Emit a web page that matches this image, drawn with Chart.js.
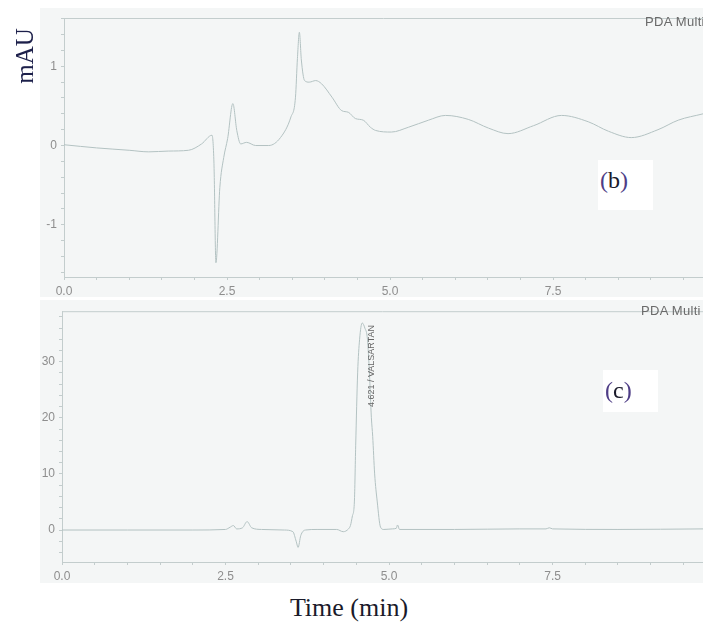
<!DOCTYPE html>
<html>
<head>
<meta charset="utf-8">
<script src="https://cdn.jsdelivr.net/npm/chart.js@4"></script>
<style>
  body { margin: 0; width: 703px; height: 622px; background: #fff; position: relative; overflow: hidden; }
  .panel { position: absolute; background: #f4f6f6; }
  .wrap { position: absolute; left: 0; }
  .tag { position: absolute; font-family: "Liberation Serif", "DejaVu Serif", serif; color: #1a1a2a; }
  .box { position: absolute; background: #fff; }
  .pda { position: absolute; font-family: "Liberation Sans", Arial, sans-serif; font-size: 13px; letter-spacing: 0.3px; color: #6a6a6a; white-space: nowrap; }
  .par { color: #4e3d86; }
</style>
</head>
<body>
<div class="panel" style="left:40px;top:8px;width:663px;height:289px"></div>
<div class="panel" style="left:40px;top:300px;width:663px;height:283px"></div>

<div class="wrap" style="top:0"><canvas id="chart-b" width="703" height="300"></canvas></div>
<div class="wrap" style="top:300px"><canvas id="chart-c" width="703" height="290"></canvas></div>

<div class="pda" style="left:645px;top:14px">PDA Multi Chromatogram</div>
<div class="pda" style="left:641px;top:303px">PDA Multi Chromatogram</div>

<div class="box" style="left:598px;top:160px;width:55px;height:50px"></div>
<div class="tag" style="left:600px;top:166px;font-size:24px;line-height:28px"><span class="par">(</span>b<span class="par">)</span></div>
<div class="box" style="left:603px;top:370px;width:55px;height:42px"></div>
<div class="tag" style="left:605px;top:376px;font-size:24px;line-height:28px"><span class="par">(</span>c<span class="par">)</span></div>

<div class="tag" style="left:-15px;top:41px;width:80px;height:30px;line-height:30px;text-align:center;font-size:25px;color:#1c1f4a;transform:rotate(-90deg)">mAU</div>
<div class="tag" style="left:249px;top:593px;width:200px;line-height:30px;text-align:center;font-size:26px">Time (min)</div>

<script>
// chromatogram (b) - blank
const timeB = [0, 0.5, 1.0, 1.3, 1.6, 1.91, 2.11, 2.27, 2.30, 2.33, 2.39, 2.45, 2.51, 2.59, 2.65,
  2.71, 2.80, 2.94, 3.14, 3.32, 3.48, 3.55, 3.58, 3.61, 3.64, 3.69, 3.76, 3.86, 3.95, 4.11,
  4.26, 4.36, 4.47, 4.59, 4.70, 4.78, 5.02, 5.28, 5.59, 5.85, 6.2, 6.51, 6.81, 7.2, 7.63,
  8.04, 8.35, 8.70, 9.11, 9.42, 9.8];
const mauB = [0.01, -0.03, -0.06, -0.08, -0.07, -0.06, 0.02, 0.13, -0.23, -1.48, -0.53, -0.15, 0.09, 0.53, 0.19,
  0.02, 0.04, 0.0, 0.0, 0.1, 0.36, 0.61, 1.1, 1.43, 1.08, 0.82, 0.8, 0.82, 0.78, 0.61,
  0.44, 0.42, 0.34, 0.32, 0.23, 0.19, 0.17, 0.23, 0.32, 0.38, 0.33, 0.22, 0.15, 0.25, 0.38,
  0.3, 0.18, 0.10, 0.2, 0.32, 0.40];

// chromatogram (c) - valsartan
const timeC = [0, 1.0, 2.0, 2.5, 2.57, 2.62, 2.67, 2.76, 2.83, 2.9, 3.05, 3.4, 3.53, 3.58, 3.61,
  3.65, 3.72, 3.9, 4.2, 4.3, 4.38, 4.41, 4.44, 4.47, 4.49, 4.52, 4.55, 4.59, 4.63, 4.67,
  4.70, 4.73, 4.75, 4.78, 4.82, 4.87, 4.92, 5.05, 5.11, 5.13, 5.16, 6.0, 7.0, 7.4, 7.45,
  7.5, 8.5, 9.8];
const mauC = [0, 0, 0, 0.1, 0.5, 0.8, 0.2, 0.4, 1.5, 0.4, 0.1, 0, -0.3, -2.0, -3.1,
  -1.0, 0, 0.1, 0.1, -0.3, 0.2, 0.8, 2.5, 5, 15, 28, 34, 36.9, 36, 34,
  28, 20, 16.7, 10, 5, 0.5, 0.1, 0.2, 0.3, 0.9, 0.1, 0.1, 0.2, 0.2, 0.4,
  0.2, 0.1, 0.2];

const peakTime = 4.59;
const peakHeight = 36.9;
const peakLabel = "4.621 / VALSARTAN";

const axisColor = "#c3cdcd";
const traceColor = "#b3c2c2";
const tickFont = { family: "'Liberation Sans', Arial, sans-serif", size: 12 };

// top line of the plot frame
const framePlugin = {
  id: "frame",
  afterDraw(chart) {
    const { ctx, chartArea: a } = chart;
    ctx.save();
    ctx.strokeStyle = axisColor;
    ctx.lineWidth = 1;
    ctx.beginPath();
    ctx.moveTo(a.left, a.top + 0.5);
    ctx.lineTo(a.right, a.top + 0.5);
    ctx.stroke();
    ctx.restore();
  },
};

const peakLabelPlugin = {
  id: "peakLabel",
  afterDatasetsDraw(chart) {
    const { ctx, scales } = chart;
    const x = scales.x.getPixelForValue(peakTime) + 9;
    const y = scales.y.getPixelForValue(peakHeight) + 2;
    ctx.save();
    ctx.translate(x, y);
    ctx.rotate(-Math.PI / 2);
    ctx.font = "9px 'Liberation Sans', Arial, sans-serif";
    ctx.fillStyle = "#666";
    ctx.textAlign = "right";
    ctx.textBaseline = "middle";
    ctx.fillText(peakLabel, 0, 0);
    ctx.restore();
  },
};

function makeChart(id, times, values, cfg) {
  const ctx = document.getElementById(id).getContext("2d");
  return new Chart(ctx, {
    type: "line",
    data: {
      datasets: [
        {
          data: times.map((t, i) => ({ x: t, y: values[i] })),
          borderColor: traceColor,
          borderWidth: 1,
          pointRadius: 0,
          cubicInterpolationMode: "monotone",
          fill: false,
        },
      ],
    },
    options: {
      responsive: false,
      animation: false,
      layout: { padding: { top: cfg.padTop, left: 0, right: 0, bottom: 0 } },
      plugins: { legend: { display: false }, tooltip: { enabled: false } },
      scales: {
        x: {
          type: "linear",
          min: 0,
          max: 9.8,
          afterFit: (s) => { s.height = cfg.xHeight; },
          border: { color: axisColor, width: 1 },
          grid: { drawOnChartArea: false, color: axisColor, tickLength: 3 },
          ticks: {
            stepSize: 0.5,
            autoSkip: false,
            includeBounds: false,
            maxRotation: 0,
            padding: 4,
            color: "#8e8e8e",
            font: tickFont,
            callback: (v) => (Math.abs(v / 2.5 - Math.round(v / 2.5)) < 1e-6 ? v.toFixed(1) : ""),
          },
        },
        y: {
          min: cfg.yMin,
          max: cfg.yMax,
          afterFit: (s) => { s.width = cfg.yWidth; },
          border: { color: axisColor, width: 1 },
          grid: { drawOnChartArea: false, color: axisColor, tickLength: 3 },
          ticks: {
            stepSize: cfg.yMinor,
            autoSkip: false,
            includeBounds: false,
            padding: 4,
            color: "#8e8e8e",
            font: tickFont,
            callback: (v) => {
              const k = v / cfg.yMajor;
              return Math.abs(k - Math.round(k)) < 1e-6 ? String(Math.round(k) * cfg.yMajor) : "";
            },
          },
        },
      },
    },
    plugins: cfg.plugins,
  });
}

makeChart("chart-b", timeB, mauB, {
  padTop: 18, xHeight: 23, yWidth: 64,
  yMin: -1.66, yMax: 1.61, yMinor: 0.2, yMajor: 1,
  plugins: [framePlugin],
});

makeChart("chart-c", timeC, mauC, {
  padTop: 5, xHeight: 28, yWidth: 62,
  yMin: -5.7, yMax: 39, yMinor: 2, yMajor: 10,
  plugins: [framePlugin, peakLabelPlugin],
});
</script>
</body>
</html>
